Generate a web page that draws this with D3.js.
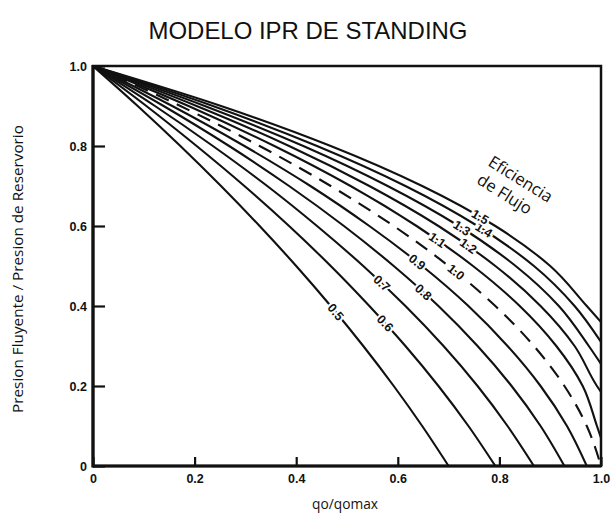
<!DOCTYPE html>
<html><head><meta charset="utf-8">
<script src="https://cdn.jsdelivr.net/npm/d3@7"></script>
<style>body{margin:0;background:#fff}svg{display:block}</style>
</head><body><svg id="c" width="613" height="523"></svg>
<script>
// ---------- data ----------
const efficiencies = ["0.5","0.6","0.7","0.8","0.9","1.0","1.1","1.2","1.3","1.4","1.5"];
const pwfRatio = [1.0,0.9,0.8,0.7,0.6,0.5,0.4,0.3,0.2,0.1,0.0];
const q05 = [0,0.088,0.172,0.252,0.328,0.400,0.468,0.532,0.592,0.648,0.700];
const q06 = [0,0.105,0.204,0.298,0.386,0.468,0.544,0.615,0.680,0.739,0.792];
const q07 = [0,0.122,0.236,0.343,0.441,0.532,0.615,0.690,0.757,0.816,0.868];
const q08 = [0,0.139,0.268,0.386,0.494,0.592,0.680,0.757,0.824,0.881,0.928];
const q09 = [0,0.156,0.298,0.428,0.544,0.648,0.739,0.816,0.881,0.933,0.972];
const q10 = [0,0.172,0.328,0.468,0.592,0.700,0.792,0.868,0.928,0.972,1.000];
const q11 = [0,0.188,0.357,0.507,0.637,0.748,0.840,0.912,0.964,0.992];
const q12 = [0,0.204,0.386,0.544,0.680,0.792,0.881,0.948,0.992];
const q13 = [0,0.220,0.414,0.580,0.720,0.832,0.917,0.976];
const q14 = [0,0.236,0.441,0.615,0.757,0.868,0.948];
const q15 = [0,0.252,0.468,0.648,0.792,0.900,0.972];
// pressure ratio at which the curve meets qo/qomax = 1.0
const edgePwf = [null,null,null,null,null,null,0.07,0.185,0.255,0.31,0.36];
// pressure ratio where each curve label sits
const labelPwf = [0.385,0.357,0.457,0.435,0.51,0.485,0.565,0.55,0.595,0.59,0.623];
const xTicks = [0,0.2,0.4,0.6,0.8,1.0];
const xTickLabels = ["0","0.2","0.4","0.6","0.8","1.0"];
const yTicks = [0,0.2,0.4,0.6,0.8,1.0];
const yTickLabels = ["0","0.2","0.4","0.6","0.8","1.0"];
const titleText = "MODELO IPR DE STANDING";
const xLabel = "qo/qomax";
const yLabel = "Presion Fluyente / Presion de Reservorio";
const noteLines = ["Eficiencia","de Flujo"];
const qSeries = [q05,q06,q07,q08,q09,q10,q11,q12,q13,q14,q15];

// ---------- drawing ----------
const svg = d3.select("#c");
const x = d3.scaleLinear().domain([0,1]).range([93,601]);
const y = d3.scaleLinear().domain([0,1]).range([466,66]);
const ink = "#111";

svg.append("clipPath").attr("id","clip").append("rect")
  .attr("x",x(0)).attr("y",y(1)).attr("width",x(1)-x(0)).attr("height",y(0)-y(1));

function fitText(sel, target){
  const n = sel.node();
  const len = n.getComputedTextLength();
  const fs = parseFloat(sel.attr("font-size"));
  sel.attr("font-size", (fs*target/len).toFixed(2));
}

// title
const t = svg.append("text").attr("x",308).attr("y",39).attr("text-anchor","middle")
  .attr("font-family","Liberation Sans, Arial, sans-serif").attr("font-size",20)
  .attr("fill",ink).text(titleText);
fitText(t, 319);

// axes
const gx = svg.append("g").attr("transform",`translate(0,${y(0)})`)
  .call(d3.axisBottom(x).tickValues(xTicks).tickFormat((d,i)=>xTickLabels[i])
    .tickSizeInner(-9).tickSizeOuter(0).tickPadding(8));
const gy = svg.append("g").attr("transform",`translate(${x(0)},0)`)
  .call(d3.axisLeft(y).tickValues(yTicks).tickFormat((d,i)=>yTickLabels[i])
    .tickSizeInner(-12).tickSizeOuter(0).tickPadding(6));
[gx,gy].forEach(g=>{
  g.select(".domain").remove();
  g.selectAll(".tick line").attr("stroke",ink).attr("stroke-width",2.2);
  g.selectAll(".tick text").attr("fill",ink).attr("font-size",12.5)
    .attr("font-weight","bold").attr("font-family","Liberation Sans, Arial, sans-serif");
});

// frame
svg.append("rect").attr("x",x(0)).attr("y",y(1)).attr("width",x(1)-x(0)).attr("height",y(0)-y(1))
  .attr("fill","none").attr("stroke",ink).attr("stroke-width",2.5);
svg.append("line").attr("x1",x(0)).attr("x2",x(0)).attr("y1",y(1)-1).attr("y2",y(0)+1.5)
  .attr("stroke",ink).attr("stroke-width",3.2);
svg.append("line").attr("x1",x(0)).attr("x2",x(1)).attr("y1",y(0)).attr("y2",y(0))
  .attr("stroke",ink).attr("stroke-width",3);

// curves
const line = d3.line().x(d=>x(d[0])).y(d=>y(d[1])).curve(d3.curveMonotoneY);
const curves = efficiencies.map((fe,i)=>{
  const pts = qSeries[i].map((q,j)=>[q,pwfRatio[j]]);
  if(edgePwf[i]!=null) pts.push([1,edgePwf[i]]);
  return {fe, pts, i};
});
const gc = svg.append("g").attr("clip-path","url(#clip)");
const paths = gc.selectAll("path").data(curves).join("path")
  .attr("d",d=>line(d.pts)).attr("fill","none").attr("stroke",ink)
  .attr("stroke-width",2.1)
  .attr("stroke-dasharray",d=>d.fe==="1.0"?"14,9":null);

// curve labels, placed on each path
const gl = svg.append("g");
paths.each(function(d){
  const node = this, L = node.getTotalLength();
  const ty = y(labelPwf[d.i]);
  let lo=0, hi=L;
  for(let k=0;k<40;k++){ const m=(lo+hi)/2; if(node.getPointAtLength(m).y<ty) lo=m; else hi=m; }
  const p = node.getPointAtLength(lo);
  const a = node.getPointAtLength(Math.max(0,lo-5)), b = node.getPointAtLength(Math.min(L,lo+5));
  const ang = Math.atan2(b.y-a.y,b.x-a.x)*180/Math.PI;
  gl.append("text").attr("transform",`translate(${p.x},${p.y}) rotate(${ang})`)
    .attr("text-anchor","middle").attr("dy","0.35em")
    .attr("font-family","Liberation Sans, Arial, sans-serif").attr("font-weight","bold")
    .attr("font-size",12.5).attr("fill",ink)
    .attr("stroke","#fff").attr("stroke-width",4).attr("paint-order","stroke")
    .text(d.fe);
});

// "Eficiencia de Flujo" note
const gn = svg.append("g").attr("transform","translate(487,165) rotate(32)");
const n1 = gn.append("text").attr("x",0).attr("y",0).attr("font-family","Open Sans, sans-serif")
  .attr("font-size",15).attr("fill",ink).text(noteLines[0]);
fitText(n1, 72);
gn.append("text").attr("x",0).attr("y",21).attr("font-family","Open Sans, sans-serif")
  .attr("font-size",n1.attr("font-size")).attr("fill",ink).text(noteLines[1]);

// axis titles
const xl = svg.append("text").attr("x",345).attr("y",509).attr("text-anchor","middle")
  .attr("font-family","Open Sans, sans-serif").attr("font-size",14).attr("fill",ink).text(xLabel);
fitText(xl, 66);
const yl = svg.append("text").attr("transform","translate(23,269) rotate(-90)").attr("text-anchor","middle")
  .attr("font-family","Open Sans, sans-serif").attr("font-size",13).attr("fill",ink).text(yLabel);
fitText(yl, 288);
</script></body></html>
